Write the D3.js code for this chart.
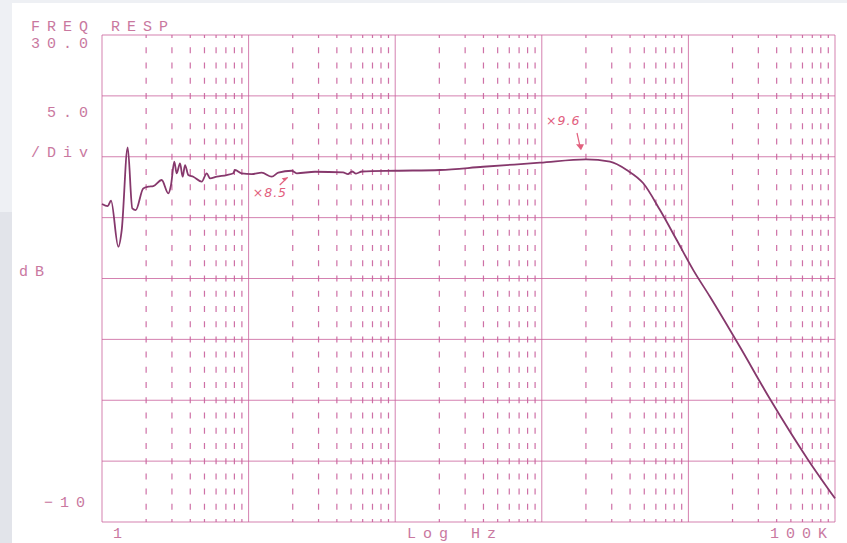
<!DOCTYPE html>
<html><head><meta charset="utf-8">
<script src="https://cdn.jsdelivr.net/npm/d3@7/dist/d3.min.js"></script>
<style>
html,body{margin:0;padding:0;background:#eef0f4;}
svg{display:block;}
</style></head>
<body>
<script>
// ---- data ----
const freqHz = [1, 1.094, 1.152, 1.292, 1.363, 1.497, 1.609, 1.698, 1.912, 2.07, 2.239, 2.554, 2.834, 2.957,
  3.113, 3.233, 3.405, 3.552, 3.684, 3.879, 4.196, 4.786, 5.178, 5.455, 6.06, 7.09, 7.863, 8.077, 8.973,
  10.49, 12.29, 14.38, 15.94, 19.68, 21.29, 28.38, 44.05, 47.64, 50.75, 54.03, 59.36, 100.8, 202.1, 397.1,
  971.9, 2002, 2919, 3794, 4923, 6402, 8324, 10800, 14040, 22490, 36030, 65770, 100000];
const gainDb = [16.12, 15.95, 16.39, 12.61, 13.98, 20.77, 15.76, 15.62, 17.4, 17.54, 17.59, 18.09, 16.99, 17.68,
  19.59, 18.64, 19.46, 18.36, 19.32, 18.5, 18.36, 17.95, 18.64, 18.23, 18.36, 18.5, 18.64, 18.91, 18.64,
  18.58, 18.69, 18.36, 18.69, 18.85, 18.64, 18.77, 18.72, 18.58, 18.79, 18.62, 18.79, 18.85, 18.91, 19.18,
  19.51, 19.79, 19.59, 18.91, 17.82, 15.62, 13.16, 10.69, 8.5, 4.37, 0.1, -4.92, -8.06];
const yTicks = [-10, -5, 0, 5, 10, 15, 20, 25, 30];
const decades = [1, 10, 100, 1000, 10000, 100000];
const minorMult = [2, 3, 4, 5, 6, 7, 8, 9];
const xLabels = [{f: 1, t: "1"}, {f: 100000, t: "100K"}];
const markers = [{f: 21.29, db: 18.64, t: "\u00d78.5"}, {f: 2002, db: 19.79, t: "\u00d79.6"}];

const W = 847, H = 543;
const gridC = "#c9619c", curveC = "#86386c", textC = "#c9789f", noteC = "#e2607e";
const x = d3.scaleLog().domain([1, 1e5]).range([102, 835]);
const y = d3.scaleLinear().domain([-10, 30]).range([522, 35]);

const svg = d3.select("body").append("svg").attr("width", W).attr("height", H);
svg.append("rect").attr("x", 0).attr("y", 0).attr("width", W).attr("height", H).attr("fill", "#eef0f4");
svg.append("rect").attr("x", 0).attr("y", 212).attr("width", 12).attr("height", H - 212).attr("fill", "#e2e4ea");
svg.append("rect").attr("x", 12).attr("y", 3).attr("width", W - 12).attr("height", H - 3).attr("fill", "#ffffff");

const g = svg.append("g");
// minor dashed verticals
const minors = [];
decades.slice(0, -1).forEach(d => minorMult.forEach(m => minors.push(d * m)));
g.selectAll("line.minor").data(minors).join("line")
  .attr("x1", d => x(d)).attr("x2", d => x(d))
  .attr("y1", y(30)).attr("y2", y(-10))
  .attr("stroke", gridC).attr("stroke-width", 1.2).attr("stroke-opacity", 0.9)
  .attr("stroke-dasharray", "6,9.22").attr("stroke-dashoffset", 3);
// horizontal grid
g.selectAll("line.h").data(yTicks).join("line")
  .attr("x1", x(1)).attr("x2", x(1e5))
  .attr("y1", d => y(d)).attr("y2", d => y(d))
  .attr("stroke", gridC).attr("stroke-width", 1).attr("stroke-opacity", 0.8);
// decade verticals
g.selectAll("line.dec").data(decades).join("line")
  .attr("x1", d => x(d)).attr("x2", d => x(d))
  .attr("y1", y(30)).attr("y2", y(-10))
  .attr("stroke", gridC).attr("stroke-width", 1).attr("stroke-opacity", 0.8);

// curve
const pts = freqHz.map((f, i) => [f, gainDb[i]]);
g.append("path").datum(pts)
  .attr("d", d3.line().x(d => x(d[0])).y(d => y(d[1])).curve(d3.curveMonotoneX))
  .attr("fill", "none").attr("stroke", curveC).attr("stroke-width", 1.8).attr("stroke-linejoin", "round");

// text
const font = "'Liberation Mono', 'DejaVu Sans Mono', monospace";
function label(t, px, py) {
  return svg.append("text").attr("x", px).attr("y", py).text(t)
    .attr("font-family", font).attr("font-size", 15)
    .attr("letter-spacing", 7).attr("fill", textC);
}
label("FREQ RESP", 31, 31);
label("30.0", 31, 47.5);
label("5.0", 47, 117);
label("/Div", 31, 157);
label("dB", 19, 276);
label("\u221210", 44, 507);
label("Log Hz", 407, 538);
xLabels.forEach(l => {
  const px = l.f === 1 ? x(l.f) + 11 : x(l.f) - 65;
  label(l.t, px, 538);
});

// handwritten markers
const m1 = markers[0], m2 = markers[1];
svg.append("text").attr("x", x(m1.f) - 44).attr("y", 197).text(m1.t)
  .attr("font-family", "'DejaVu Sans', sans-serif").attr("font-style", "italic")
  .attr("font-size", 12.5).attr("letter-spacing", 1).attr("fill", noteC);
svg.append("path").attr("d", `M${x(m1.f) - 17},185 L${x(m1.f) - 9},${y(m1.db) + 4}`)
  .attr("stroke", noteC).attr("stroke-width", 1.2).attr("fill", "none");
svg.append("path").attr("d", `M${x(m1.f) - 9},${y(m1.db) + 4} l-6,1 l3,3 z`).attr("fill", noteC);
svg.append("text").attr("x", x(m2.f) - 40).attr("y", 125).text(m2.t)
  .attr("font-family", "'DejaVu Sans', sans-serif").attr("font-style", "italic")
  .attr("font-size", 12.5).attr("letter-spacing", 1).attr("fill", noteC);
svg.append("path").attr("d", `M${x(m2.f) - 9},133 L${x(m2.f) - 6},${y(m2.db) - 13}`)
  .attr("stroke", noteC).attr("stroke-width", 1.2).attr("fill", "none");
svg.append("path").attr("d", `M${x(m2.f) - 10},${y(m2.db) - 15} l8,0 l-3,6 z`).attr("fill", noteC);
</script>
</body></html>
